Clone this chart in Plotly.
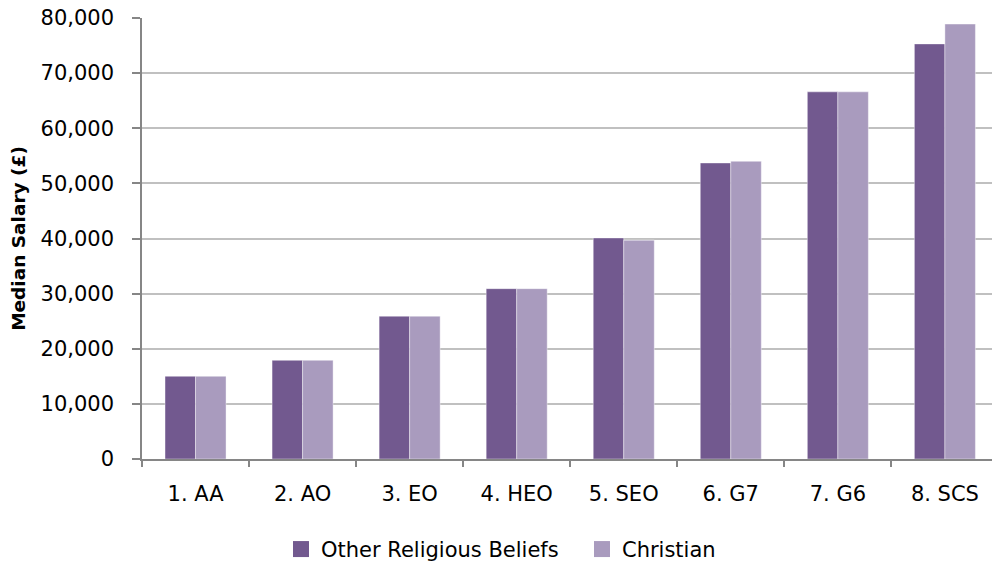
import plotly.graph_objects as go

# Median salary by civil service grade and religious belief
grades = ["1. AA", "2. AO", "3. EO", "4. HEO", "5. SEO", "6. G7", "7. G6", "8. SCS"]
other_beliefs = [15000, 17900, 25900, 30900, 40100, 53700, 66600, 75300]
christian = [15000, 17900, 25900, 30900, 39700, 54000, 66600, 78900]
series_names = ["Other Religious Beliefs", "Christian"]
y_ticks = [0, 10000, 20000, 30000, 40000, 50000, 60000, 70000, 80000]

DARK = "#72598F"
LIGHT = "#A99BBE"
FONT = "DejaVu Sans"

fig = go.Figure()
for name, vals, col in [(series_names[0], other_beliefs, DARK),
                        (series_names[1], christian, LIGHT)]:
    fig.add_trace(go.Bar(
        x=grades, y=vals, name=name, showlegend=False,
        marker=dict(color=col, line=dict(color="rgba(255,255,255,0.5)", width=0.8)),
    ))
    # larger square swatches for the legend
    fig.add_trace(go.Scatter(
        x=[None], y=[None], mode="markers", name=name,
        marker=dict(symbol="square", size=19, color=col),
    ))

fig.update_layout(
    width=992, height=565,
    margin=dict(l=142, r=0, t=18, b=106, pad=0, autoexpand=False),
    paper_bgcolor="white", plot_bgcolor="white",
    barmode="group", bargap=0.43, bargroupgap=0,
    font=dict(family=FONT, size=21, color="#000000"),
    showlegend=True,
    legend=dict(
        orientation="h", x=0.1635, xanchor="left", y=-0.205, yanchor="middle",
        font=dict(family=FONT, size=21, color="#000000"),
        entrywidth=256, itemsizing="trace",
        bgcolor="rgba(0,0,0,0)",
    ),
)
fig.update_xaxes(
    range=[-0.5, 7.44], showgrid=False, automargin=False,
    showline=True, linecolor="#868686", linewidth=1.5,
    ticks="outside", tickson="boundaries", ticklen=6,
    tickcolor="#868686", tickwidth=1.5,
    tickfont=dict(family=FONT, size=21, color="#000000"),
    ticklabelstandoff=15,
)
fig.update_yaxes(
    range=[0, 80000], tickvals=y_ticks, automargin=False,
    tickformat=",d",
    showgrid=True, gridcolor="#C0C0C0", gridwidth=1.5,
    showline=True, linecolor="#868686", linewidth=1.5,
    ticks="outside", ticklen=8, tickcolor="#868686", tickwidth=1.5,
    tickfont=dict(family=FONT, size=21, color="#000000"),
    ticklabelstandoff=14,
    zeroline=False,
    title=dict(text="<b>Median Salary (£)</b>", font=dict(family=FONT, size=18.5, color="#000000"),
               standoff=10),
)

fig.write_html("out.html")
